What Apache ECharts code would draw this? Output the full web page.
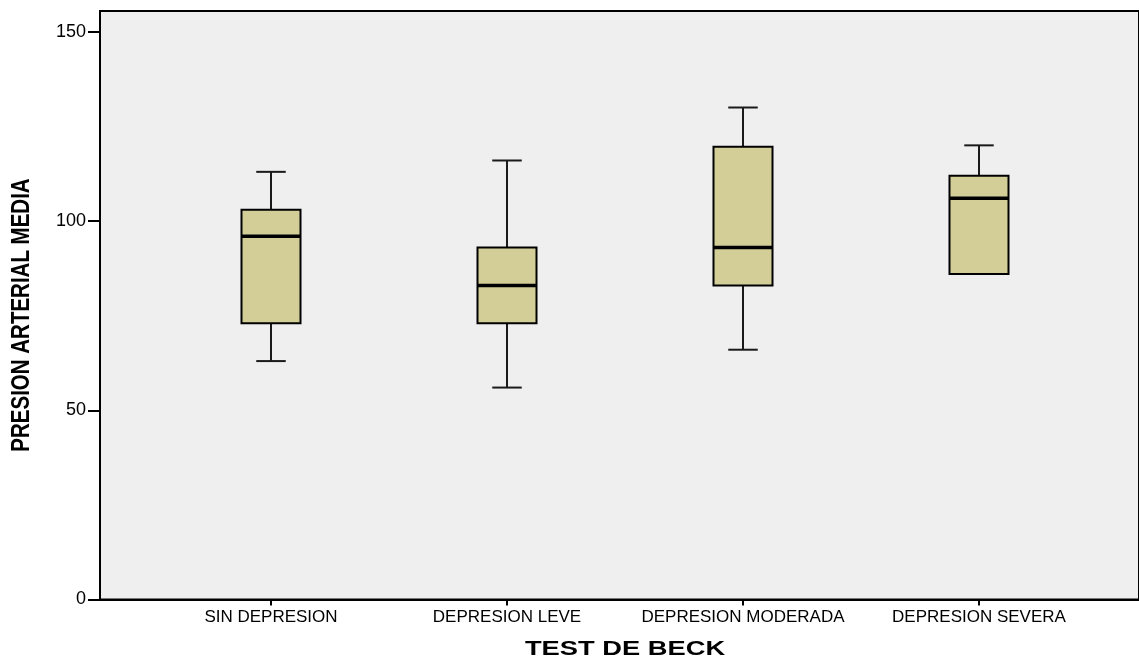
<!DOCTYPE html>
<html>
<head>
<meta charset="utf-8">
<script src="https://cdn.jsdelivr.net/npm/echarts@6/dist/echarts.min.js"></script>
<style>
html,body{margin:0;padding:0;background:#fff;}
#chart{width:1139px;height:660px;}
</style>
</head>
<body>
<div id="chart"></div>
<script>
// Data
const categories = ['SIN DEPRESION', 'DEPRESION LEVE', 'DEPRESION MODERADA', 'DEPRESION SEVERA'];
const whiskerLow  = [63, 56, 66, 86];
const q1          = [73, 73, 83, 86];
const median      = [96, 83, 93, 106];
const q3          = [103, 93, 119.6, 112];
const whiskerHigh = [113, 116, 130, 120];
const yTicks = [0, 50, 100, 150];
const xTitle = 'TEST DE BECK';
const yTitle = 'PRESION ARTERIAL MEDIA';

const boxData = categories.map((c, i) => [i, whiskerLow[i], q1[i], median[i], q3[i], whiskerHigh[i]]);

const chart = echarts.init(document.getElementById('chart'), null, {renderer: 'canvas'});
const Y_MAX = 155.5;

function renderBox(params, api) {
  const x = api.value(0);
  const lo = api.coord([x, api.value(1)]);
  const b1 = api.coord([x, api.value(2)]);
  const md = api.coord([x, api.value(3)]);
  const b3 = api.coord([x, api.value(4)]);
  const hi = api.coord([x, api.value(5)]);
  const band = api.size([1, 0])[0];
  const half = band * 0.125;
  const cap = band * 0.0625;
  const cx = lo[0];
  const wStyle = {stroke: '#1a1a1a', lineWidth: 2};
  return {
    type: 'group',
    children: [
      {type: 'line', shape: {x1: cx, y1: hi[1], x2: cx, y2: b3[1]}, style: wStyle},
      {type: 'line', shape: {x1: cx, y1: b1[1], x2: cx, y2: lo[1]}, style: wStyle},
      {type: 'line', shape: {x1: cx - cap, y1: hi[1], x2: cx + cap, y2: hi[1]}, style: wStyle},
      {type: 'line', shape: {x1: cx - cap, y1: lo[1], x2: cx + cap, y2: lo[1]}, style: wStyle},
      {type: 'rect', shape: {x: cx - half, y: b3[1], width: half * 2, height: b1[1] - b3[1]},
        style: {fill: '#D3CE98', stroke: '#000', lineWidth: 2}},
      {type: 'line', shape: {x1: cx - half, y1: md[1], x2: cx + half, y2: md[1]},
        style: {stroke: '#000', lineWidth: 3.5}}
    ]
  };
}

const option = {
  animation: false,
  backgroundColor: '#fff',
  grid: [
    {left: 100, right: -5, top: 11, bottom: 60.5, show: true, backgroundColor: '#EFEFEF',
     borderColor: '#000', borderWidth: 2},
    {left: 153, right: 42, top: 11, bottom: 60.5}
  ],
  xAxis: [
    {gridIndex: 0, type: 'value', min: 0, max: 1, axisLine: {show: true, lineStyle: {color: '#000', width: 2}},
     axisTick: {show: false}, axisLabel: {show: false}, splitLine: {show: false}},
    {gridIndex: 1, type: 'category', data: categories,
     axisLine: {show: false},
     axisTick: {show: true, interval: 0, alignWithLabel: true, length: 6, lineStyle: {color: '#000', width: 2}},
     axisLabel: {interval: 0, hideOverlap: false, color: '#000', fontSize: 17,
                 fontFamily: 'Liberation Sans, Arial, sans-serif', margin: 9},
     splitLine: {show: false}}
  ],
  yAxis: [
    {gridIndex: 0, type: 'value', min: 0, max: Y_MAX,
     axisLine: {show: true, lineStyle: {color: '#000', width: 2}},
     axisTick: {show: true, length: 12, customValues: yTicks, lineStyle: {color: '#000', width: 2}},
     axisLabel: {show: true, customValues: yTicks, color: '#000', fontSize: 18, margin: 14,
                 fontFamily: 'Liberation Sans, Arial, sans-serif'},
     splitLine: {show: false}},
    {gridIndex: 1, type: 'value', min: 0, max: Y_MAX, show: false, splitLine: {show: false}}
  ],
  series: [{
    type: 'custom',
    xAxisIndex: 1,
    yAxisIndex: 1,
    renderItem: renderBox,
    encode: {x: 0, y: [1, 2, 3, 4, 5]},
    data: boxData
  }],
  graphic: [
    {type: 'text', x: 625, y: 649, scaleX: 1.3,
     style: {text: xTitle, fill: '#000', align: 'center', verticalAlign: 'middle',
             font: 'bold 21px "Liberation Sans", Arial, sans-serif'}},
    {type: 'text', x: 22, y: 315, rotation: Math.PI / 2, scaleX: 0.82,
     style: {text: yTitle, fill: '#000', align: 'center', verticalAlign: 'middle',
             font: 'bold 25px "Liberation Sans", Arial, sans-serif'}}
  ]
};
chart.setOption(option);
</script>
</body>
</html>
